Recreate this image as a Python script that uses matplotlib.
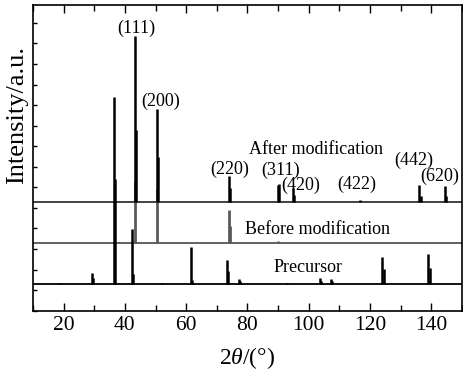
import matplotlib
matplotlib.use("Agg")
import matplotlib.pyplot as plt
from matplotlib.ticker import MultipleLocator

plt.rcParams["font.family"] = ["Liberation Serif", "DejaVu Serif"]
plt.rcParams["mathtext.fontset"] = "custom"
plt.rcParams["mathtext.rm"] = "Liberation Serif"
plt.rcParams["mathtext.it"] = "Liberation Serif:italic"

# baselines (vertical offsets) of each pattern
BASE_AFTER = 5.27
BASE_BEFORE = 3.31
BASE_PREC = 1.30

# peak positions (2theta) and heights above own baseline
after_pos = [43.2, 43.45, 50.4, 50.65, 74.0, 74.3, 89.8, 90.2, 94.8, 95.1, 116.7, 136.1, 136.5, 144.3, 144.7]
after_h = [8.09, 3.5, 4.54, 2.2, 1.28, 0.7, 0.86, 0.89, 0.68, 0.35, 0.1, 0.84, 0.3, 0.79, 0.3]

before_pos = [43.3, 50.5, 73.9, 74.2, 90.0]
before_h = [3.0, 2.6, 1.59, 0.8, 0.1]

prec_pos = [18.5, 29.3, 29.6, 36.4, 36.7, 42.3, 42.6, 52.0, 61.6, 61.9, 73.3, 73.6, 77.3, 77.7,
            93.0, 103.5, 103.9, 107.3, 107.7, 124.0, 124.4, 139.0, 139.4]
prec_h = [0.06, 0.52, 0.3, 9.11, 5.1, 2.66, 0.5, 0.05, 1.82, 0.2, 1.17, 0.63, 0.23, 0.15,
          0.06, 0.28, 0.15, 0.22, 0.12, 1.33, 0.71, 1.45, 0.8]

# peak labels: text, 2theta, y (data units)
hkl_labels = ["(111)", "(200)", "(220)", "(311)", "(420)", "(422)", "(442)", "(620)"]
hkl_x = [43.7, 51.8, 74.1, 90.9, 97.2, 115.7, 134.4, 142.6]
hkl_y = [13.75, 10.17, 6.89, 6.82, 6.11, 6.16, 7.33, 6.53]

name_labels = ["After modification", "Before modification", "Precursor"]
name_x = [102.4, 103.0, 99.6]
name_y = [7.86, 3.97, 2.12]

XMIN, XMAX = 10, 150

fig = plt.figure(figsize=(4.63, 3.76), dpi=100)
ax = fig.add_axes([0.0713, 0.1737, 0.9265, 0.813])

# baselines
ax.hlines(BASE_PREC, XMIN, XMAX, color="black", lw=1.3, zorder=2)
ax.hlines(BASE_BEFORE, XMIN, XMAX, color="#555555", lw=1.3, zorder=2)
ax.hlines(BASE_AFTER, XMIN, XMAX, color="#333333", lw=1.3, zorder=2)

# peaks
ax.vlines(prec_pos, BASE_PREC, [BASE_PREC + h for h in prec_h], color="black", lw=1.8, zorder=3)
ax.vlines(before_pos, BASE_BEFORE, [BASE_BEFORE + h for h in before_h], color="#5a5a5a", lw=2.0, zorder=2)
ax.vlines(after_pos, BASE_AFTER, [BASE_AFTER + h for h in after_h], color="black", lw=1.8, zorder=4)

for t, x, y in zip(hkl_labels, hkl_x, hkl_y):
    ax.text(x, y, t, ha="center", va="center", fontsize=13)
for t, x, y in zip(name_labels, name_x, name_y):
    ax.text(x, y, t, ha="center", va="center", fontsize=13)

ax.set_xlim(XMIN, XMAX)
ax.set_ylim(0, 14.87)
ax.xaxis.set_major_locator(MultipleLocator(20))
ax.xaxis.set_minor_locator(MultipleLocator(10))
ax.yaxis.set_major_locator(MultipleLocator(1))
ax.set_yticklabels([])
ax.tick_params(axis="x", which="major", direction="in", length=6, width=1, labelsize=15.5, top=True, pad=4)
ax.tick_params(axis="x", which="minor", direction="in", length=4, width=1, top=True)
ax.tick_params(axis="y", which="major", direction="in", length=3, width=1, right=False)
for s in ax.spines.values():
    s.set_linewidth(1.2)

ax.set_xlabel(r"2$\it{\theta}$/(°)", fontsize=17, labelpad=7)
ax.set_ylabel("Intensity/a.u.", fontsize=19)
ax.yaxis.set_label_coords(-0.012, 0.64)

fig.savefig("out.png", dpi=100)
